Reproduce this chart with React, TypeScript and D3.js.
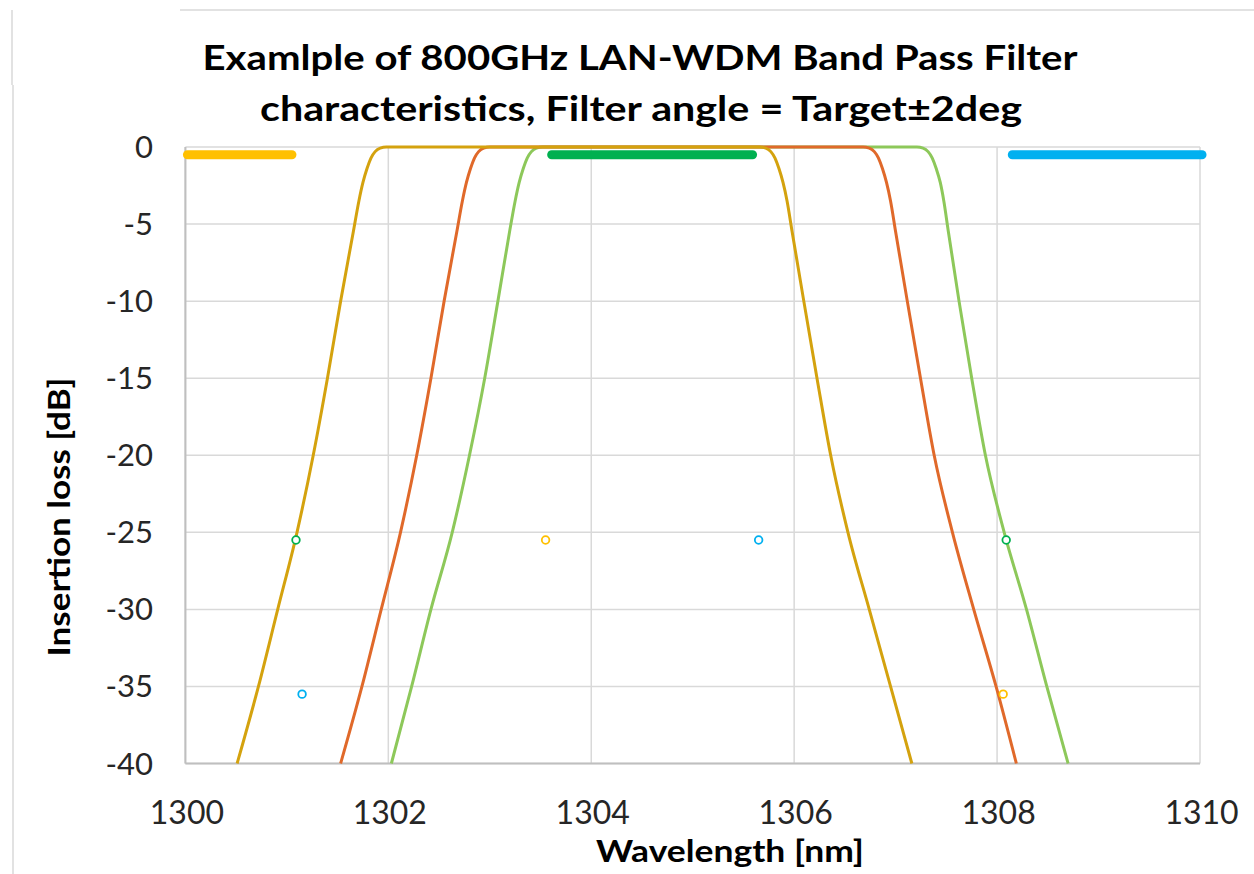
import React from "react";
import * as d3 from "d3";

// ---- data ----
const titleLines = [
  "Examlple of 800GHz LAN-WDM  Band Pass Filter",
  "characteristics, Filter angle = Target±2deg",
];
const xTicks = [1300, 1302, 1304, 1306, 1308, 1310];
const yTicks = [0, -5, -10, -15, -20, -25, -30, -35, -40];

// filter curves [wavelength nm, insertion loss dB]
const goldCurve: [number, number][] = [
  [1300.51, -40], [1300.72, -35], [1300.91, -30], [1301.1, -25], [1301.26, -20],
  [1301.4, -15], [1301.53, -10], [1301.655, -5.5], [1301.71, -3.5], [1301.75, -2.3],
  [1301.79, -1.4], [1301.83, -0.7], [1301.87, -0.3], [1301.92, -0.07], [1301.98, 0],
  [1305.66, 0], [1305.72, -0.07], [1305.77, -0.3], [1305.81, -0.7], [1305.85, -1.4],
  [1305.89, -2.3], [1305.93, -3.5], [1305.98, -5.5], [1306.095, -10], [1306.225, -15],
  [1306.36, -20], [1306.53, -25], [1306.74, -30], [1306.95, -35], [1307.16, -40],
];
const orangeCurve: [number, number][] = [
  [1301.53, -40], [1301.74, -35], [1301.93, -30], [1302.12, -25], [1302.28, -20],
  [1302.42, -15], [1302.55, -10], [1302.675, -5.5], [1302.73, -3.5], [1302.77, -2.3],
  [1302.81, -1.4], [1302.85, -0.7], [1302.89, -0.3], [1302.94, -0.07], [1303.0, 0],
  [1306.68, 0], [1306.74, -0.07], [1306.79, -0.3], [1306.83, -0.7], [1306.87, -1.4],
  [1306.91, -2.3], [1306.95, -3.5], [1307.0, -5.5], [1307.115, -10], [1307.245, -15],
  [1307.38, -20], [1307.56, -25], [1307.77, -30], [1307.99, -35], [1308.19, -40],
];
const greenCurve: [number, number][] = [
  [1302.03, -40], [1302.23, -35], [1302.42, -30], [1302.63, -25], [1302.8, -20],
  [1302.95, -15], [1303.08, -10], [1303.195, -5.5], [1303.25, -3.5], [1303.29, -2.3],
  [1303.33, -1.4], [1303.37, -0.7], [1303.41, -0.3], [1303.46, -0.07], [1303.52, 0],
  [1307.21, 0], [1307.27, -0.07], [1307.32, -0.3], [1307.36, -0.7], [1307.4, -1.4],
  [1307.44, -2.3], [1307.475, -3.5], [1307.52, -5.5], [1307.625, -10], [1307.75, -15],
  [1307.885, -20], [1308.07, -25], [1308.29, -30], [1308.49, -35], [1308.7, -40],
];

// pass-band spec bars [start, end, level]
const yellowBand: [number, number, number] = [1300.02, 1301.05, -0.5];
const greenBand: [number, number, number] = [1303.61, 1305.59, -0.5];
const blueBand: [number, number, number] = [1308.15, 1310.02, -0.5];

// isolation spec markers
const greenMarkers: [number, number][] = [[1301.09, -25.5], [1308.09, -25.5]];
const yellowMarkers: [number, number][] = [[1303.55, -25.5], [1308.06, -35.5]];
const blueMarkers: [number, number][] = [[1305.65, -25.5], [1301.15, -35.5]];

const W = 1254;
const H = 874;

export default function App() {
  const x = d3.scaleLinear().domain([1300, 1310]).range([185.4, 1200]);
  const y = d3.scaleLinear().domain([-40, 0]).range([763.5, 147]);
  const line = d3
    .line<[number, number]>()
    .x((d) => x(d[0]))
    .y((d) => y(d[1]))
    .curve(d3.curveMonotoneX);

  const curves = [
    { data: greenCurve, color: "#8DC85A" },
    { data: orangeCurve, color: "#E0692A" },
    { data: goldCurve, color: "#D4A20E" },
  ];
  const bands = [
    { d: yellowBand, color: "#FFC000" },
    { d: greenBand, color: "#00B050" },
    { d: blueBand, color: "#00B0F0" },
  ];
  const markers = [
    { data: greenMarkers, color: "#00B050" },
    { data: yellowMarkers, color: "#FFC000" },
    { data: blueMarkers, color: "#00B0F0" },
  ];
  const font = "Lato, 'Noto Sans', sans-serif";

  return (
    <svg
      width={W}
      height={H}
      style={{ position: "absolute", left: 0, top: 0, background: "#fff" }}
      fontFamily={font}
    >
      <rect x={0} y={0} width={W} height={H} fill="#fff" />
      {/* outer frame remnants */}
      <line x1={180} x2={W} y1={10} y2={10} stroke="#D9D9D9" strokeWidth={1.5} />
      <line x1={12} x2={12} y1={10} y2={85} stroke="#D9D9D9" strokeWidth={1.5} />
      <line x1={13} x2={13} y1={85} y2={H} stroke="#D9D9D9" strokeWidth={1.5} />

      {/* title */}
      <text x={640} y={70} textAnchor="middle" fontWeight={700} fontSize={35} textLength={875} lengthAdjust="spacingAndGlyphs" fill="#000">
        {titleLines[0]}
      </text>
      <text x={641} y={121} textAnchor="middle" fontWeight={700} fontSize={35} textLength={762} lengthAdjust="spacingAndGlyphs" fill="#000">
        {titleLines[1]}
      </text>

      {/* gridlines */}
      {yTicks.map((t) => (
        <line key={"gy" + t} x1={x(1300)} x2={x(1310)} y1={y(t)} y2={y(t)} stroke="#D9D9D9" strokeWidth={1.5} />
      ))}
      {xTicks.map((t) => (
        <line key={"gx" + t} x1={x(t)} x2={x(t)} y1={y(0)} y2={y(-40)} stroke="#D9D9D9" strokeWidth={1.5} />
      ))}
      {/* axis lines */}
      <line x1={x(1300)} x2={x(1300)} y1={y(0)} y2={y(-40)} stroke="#BFBFBF" strokeWidth={2} />
      <line x1={x(1300)} x2={x(1310)} y1={y(-40)} y2={y(-40)} stroke="#BFBFBF" strokeWidth={2} />

      {/* tick labels */}
      {yTicks.map((t) => (
        <text key={"ty" + t} x={153} y={y(t) + 11} textAnchor="end" fontSize={31} fill="#262626">
          {t}
        </text>
      ))}
      {xTicks.map((t) => (
        <text key={"tx" + t} x={x(t) + 1.5} y={824} textAnchor="middle" fontSize={32} fill="#262626">
          {t}
        </text>
      ))}

      {/* axis titles */}
      <text x={730} y={862} textAnchor="middle" fontWeight={700} fontSize={30} textLength={268} lengthAdjust="spacingAndGlyphs" fill="#000">
        Wavelength [nm]
      </text>
      <text
        transform={`translate(70,517) rotate(-90)`}
        textAnchor="middle"
        fontWeight={700}
        fontSize={30}
        textLength={279}
        lengthAdjust="spacingAndGlyphs"
        fill="#000"
      >
        Insertion loss [dB]
      </text>

      {/* filter curves */}
      {curves.map((c, i) => (
        <path key={"c" + i} d={line(c.data) || ""} fill="none" stroke={c.color} strokeWidth={3} strokeLinejoin="round" />
      ))}

      {/* pass-band bars */}
      {bands.map((b, i) => (
        <line
          key={"b" + i}
          x1={x(b.d[0])}
          x2={x(b.d[1])}
          y1={y(b.d[2])}
          y2={y(b.d[2])}
          stroke={b.color}
          strokeWidth={9}
          strokeLinecap="round"
        />
      ))}

      {/* markers */}
      {markers.map((m, i) =>
        m.data.map((p, j) => (
          <circle key={"m" + i + "-" + j} cx={x(p[0])} cy={y(p[1])} r={3.8} fill="#fff" stroke={m.color} strokeWidth={1.8} />
        ))
      )}
    </svg>
  );
}
